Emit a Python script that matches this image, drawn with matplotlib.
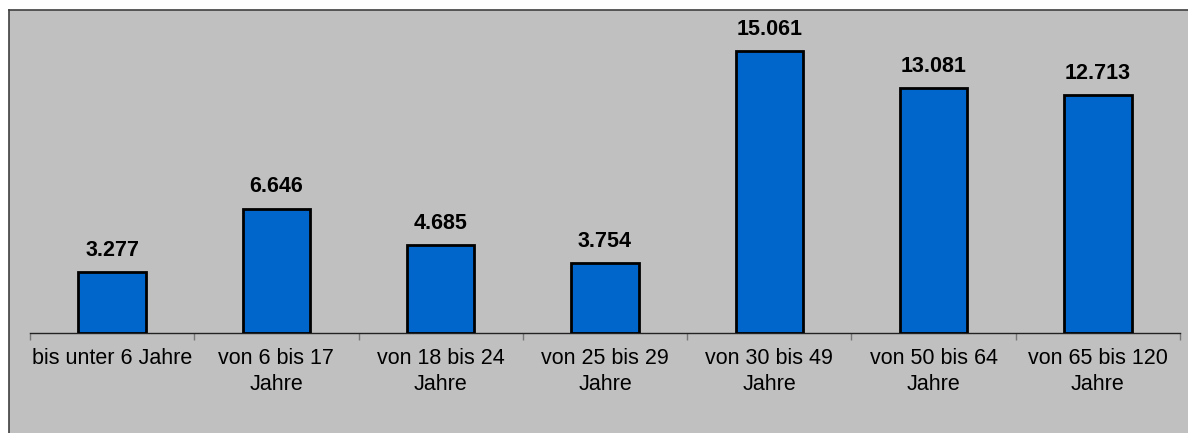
import matplotlib
matplotlib.use("Agg")
import matplotlib.pyplot as plt
from matplotlib.patches import Rectangle
from matplotlib.lines import Line2D
import numpy as np

plt.rcParams['font.family'] = ['Liberation Sans', 'DejaVu Sans']

categories = ["bis unter 6 Jahre", "von 6 bis 17\nJahre", "von 18 bis 24\nJahre",
              "von 25 bis 29\nJahre", "von 30 bis 49\nJahre", "von 50 bis 64\nJahre",
              "von 65 bis 120\nJahre"]
values = [3277, 6646, 4685, 3754, 15061, 13081, 12713]
labels = ["3.277", "6.646", "4.685", "3.754", "15.061", "13.081", "12.713"]

W, H = 1188, 433
fig = plt.figure(figsize=(W / 100, H / 100), dpi=100)
fig.patch.set_facecolor("white")

# grey panel with border on left and top
gx0, gy1 = 9 / W, (H - 10) / H
fig.patches.append(Rectangle((gx0, 0), 1 - gx0, gy1, transform=fig.transFigure,
                             facecolor="#c0c0c0", edgecolor="none", zorder=-10))
fig.lines.append(Line2D([gx0, gx0], [0, gy1], transform=fig.transFigure,
                        color="#404040", lw=1.2, zorder=-9))
fig.lines.append(Line2D([gx0, 1], [gy1, gy1], transform=fig.transFigure,
                        color="#404040", lw=1.2, zorder=-9))

ax = fig.add_axes([30 / W, (H - 333) / H, 1150 / W, 323 / H])
ax.set_facecolor("none")
x = np.arange(len(values))
ax.bar(x, values, width=0.41, color="#0066cc", edgecolor="black", linewidth=2, zorder=3)
ax.set_xlim(-0.5, len(values) - 0.5)
ax.set_ylim(0, 17245)

for xi, v, lab in zip(x, values, labels):
    ax.annotate(lab, (xi, v), xytext=(0, 8), textcoords="offset points",
                ha="center", va="bottom", fontsize=15.5, fontweight="bold", color="black")

for s in ["top", "right", "left"]:
    ax.spines[s].set_visible(False)
ax.spines["bottom"].set_color("#222222")
ax.spines["bottom"].set_linewidth(1)
ax.set_yticks([])
ax.set_xticks(x)
ax.set_xticklabels(categories, fontsize=15.5, color="black", linespacing=1.3)
ax.tick_params(axis="x", which="major", length=0, pad=11)
ax.set_xticks(np.arange(-0.5, len(values)), minor=True)
ax.tick_params(axis="x", which="minor", length=5, color="#777777", width=1)

fig.savefig("out.png", dpi=100)
